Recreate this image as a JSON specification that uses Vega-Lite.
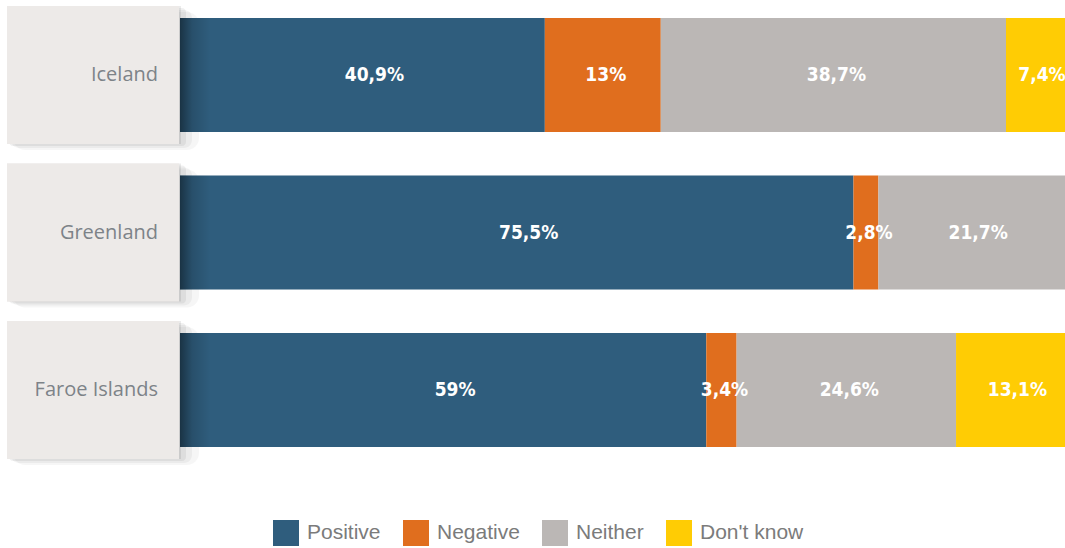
{
  "$schema": "https://vega.github.io/schema/vega-lite/v6.json",
  "padding": {"left": 7, "top": 6, "right": 0, "bottom": 0},
  "bounds": "flush",
  "background": "#ffffff",
  "config": {"view": {"stroke": null}, "concat": {"spacing": 1}},
  "datasets": {
    "survey": [
      {"country": "Iceland", "response": "Positive", "percent": 40.9},
      {"country": "Iceland", "response": "Negative", "percent": 13},
      {"country": "Iceland", "response": "Neither", "percent": 38.7},
      {"country": "Iceland", "response": "Don't know", "percent": 7.4},
      {"country": "Greenland", "response": "Positive", "percent": 75.5},
      {"country": "Greenland", "response": "Negative", "percent": 2.8},
      {"country": "Greenland", "response": "Neither", "percent": 21.7},
      {"country": "Faroe Islands", "response": "Positive", "percent": 59},
      {"country": "Faroe Islands", "response": "Negative", "percent": 3.4},
      {"country": "Faroe Islands", "response": "Neither", "percent": 24.6},
      {"country": "Faroe Islands", "response": "Don't know", "percent": 13.1}
    ]
  },
  "hconcat": [
    {
      "width": 172,
      "height": 453,
      "data": {"name": "survey"},
      "transform": [{"filter": "datum.response === 'Positive'"}],
      "encoding": {
        "y": {"field": "country", "type": "nominal", "sort": ["Iceland", "Greenland", "Faroe Islands"], "scale": {"paddingInner": 0.1238, "paddingOuter": 0}, "axis": null}
      },
      "layer": [
        {"mark": {"type": "rect", "color": "#000000", "opacity": 0.035, "xOffset": 6, "yOffset": 6, "x2Offset": 20, "y2Offset": 18, "cornerRadius": 12}, "encoding": {"x": {"value": 0}, "x2": {"value": "width"}}},
        {"mark": {"type": "rect", "color": "#000000", "opacity": 0.045, "xOffset": 4, "yOffset": 4, "x2Offset": 13, "y2Offset": 13, "cornerRadius": 8}, "encoding": {"x": {"value": 0}, "x2": {"value": "width"}}},
        {"mark": {"type": "rect", "color": "#000000", "opacity": 0.06, "xOffset": 2, "yOffset": 2, "x2Offset": 7, "y2Offset": 8, "cornerRadius": 4}, "encoding": {"x": {"value": 0}, "x2": {"value": "width"}}},
        {"mark": {"type": "rect", "color": "#000000", "opacity": 0.08, "x2Offset": 2, "y2Offset": 4}, "encoding": {"x": {"value": 0}, "x2": {"value": "width"}}},
        {"mark": {"type": "rect", "color": "#EDEAE8"}, "encoding": {"x": {"value": 0}, "x2": {"value": "width"}}},
        {"mark": {"type": "text", "align": "right", "baseline": "middle", "dx": -21, "font": "Open Sans", "fontSize": 20, "color": "#7D8388"}, "encoding": {"x": {"value": "width"}, "text": {"field": "country"}}}
      ]
    },
    {
      "width": 892,
      "height": 453,
      "data": {"name": "survey"},
      "transform": [
        {"calculate": "indexof(['Positive','Negative','Neither',\"Don't know\"], datum.response)", "as": "order"},
        {"stack": "percent", "groupby": ["country"], "sort": [{"field": "order", "order": "ascending"}], "as": ["x0", "x1"]},
        {"calculate": "(datum.x0 + datum.x1) / 2", "as": "mid"},
        {"calculate": "replace(format(datum.percent, '.1~f'), '.', ',') + '%'", "as": "label"}
      ],
      "encoding": {
        "y": {"field": "country", "type": "nominal", "sort": ["Iceland", "Greenland", "Faroe Islands"], "scale": {"paddingInner": 0.1238, "paddingOuter": 0}, "axis": null}
      },
      "layer": [
        {
          "mark": {"type": "bar", "height": {"band": 0.826}},
          "encoding": {
            "x": {"field": "x0", "type": "quantitative", "scale": {"domain": [0, 100], "nice": false, "zero": true}, "axis": null},
            "x2": {"field": "x1"},
            "color": {
              "field": "response", "type": "nominal",
              "scale": {"domain": ["Positive", "Negative", "Neither", "Don't know"], "range": ["#2F5D7D", "#E06E1E", "#BBB7B5", "#FFCC04"]},
              "legend": {
                "orient": "none", "legendX": 266, "legendY": 514, "direction": "horizontal", "columns": 4,
                "title": null, "padding": 0, "symbolType": "square", "symbolSize": 676, "symbolStrokeWidth": 0, "symbolOpacity": 1,
                "labelFont": "Liberation Sans", "labelFontSize": 21, "labelColor": "#7B7B7B", "labelOffset": 8, "columnPadding": 22
              }
            }
          }
        },
        {
          "transform": [{"filter": "datum.response === 'Positive'"}],
          "mark": {"type": "bar", "height": {"band": 0.826}, "fill": {"gradient": "linear", "x1": 0, "x2": 1, "y1": 0, "y2": 0, "stops": [{"offset": 0, "color": "rgba(0,0,0,0.45)"}, {"offset": 0.4, "color": "rgba(0,0,0,0.15)"}, {"offset": 1, "color": "rgba(0,0,0,0)"}]}},
          "encoding": {"x": {"datum": 0, "type": "quantitative"}, "x2": {"datum": 3.4}}
        },
        {
          "transform": [{"filter": "datum.response === 'Positive'"}],
          "mark": {"type": "text", "baseline": "middle", "align": "center", "dx": 12, "font": "'DejaVu Sans Condensed', 'Liberation Sans', sans-serif", "fontWeight": "bold", "fontSize": 19, "color": "#FFFFFF"},
          "encoding": {"x": {"field": "mid", "type": "quantitative"}, "text": {"field": "label"}}
        },
        {
          "transform": [{"filter": "datum.response !== 'Positive'"}],
          "mark": {"type": "text", "baseline": "middle", "align": "center", "dx": 3, "font": "'DejaVu Sans Condensed', 'Liberation Sans', sans-serif", "fontWeight": "bold", "fontSize": 19, "color": "#FFFFFF"},
          "encoding": {"x": {"field": "mid", "type": "quantitative"}, "text": {"field": "label"}}
        }
      ]
    }
  ]
}
